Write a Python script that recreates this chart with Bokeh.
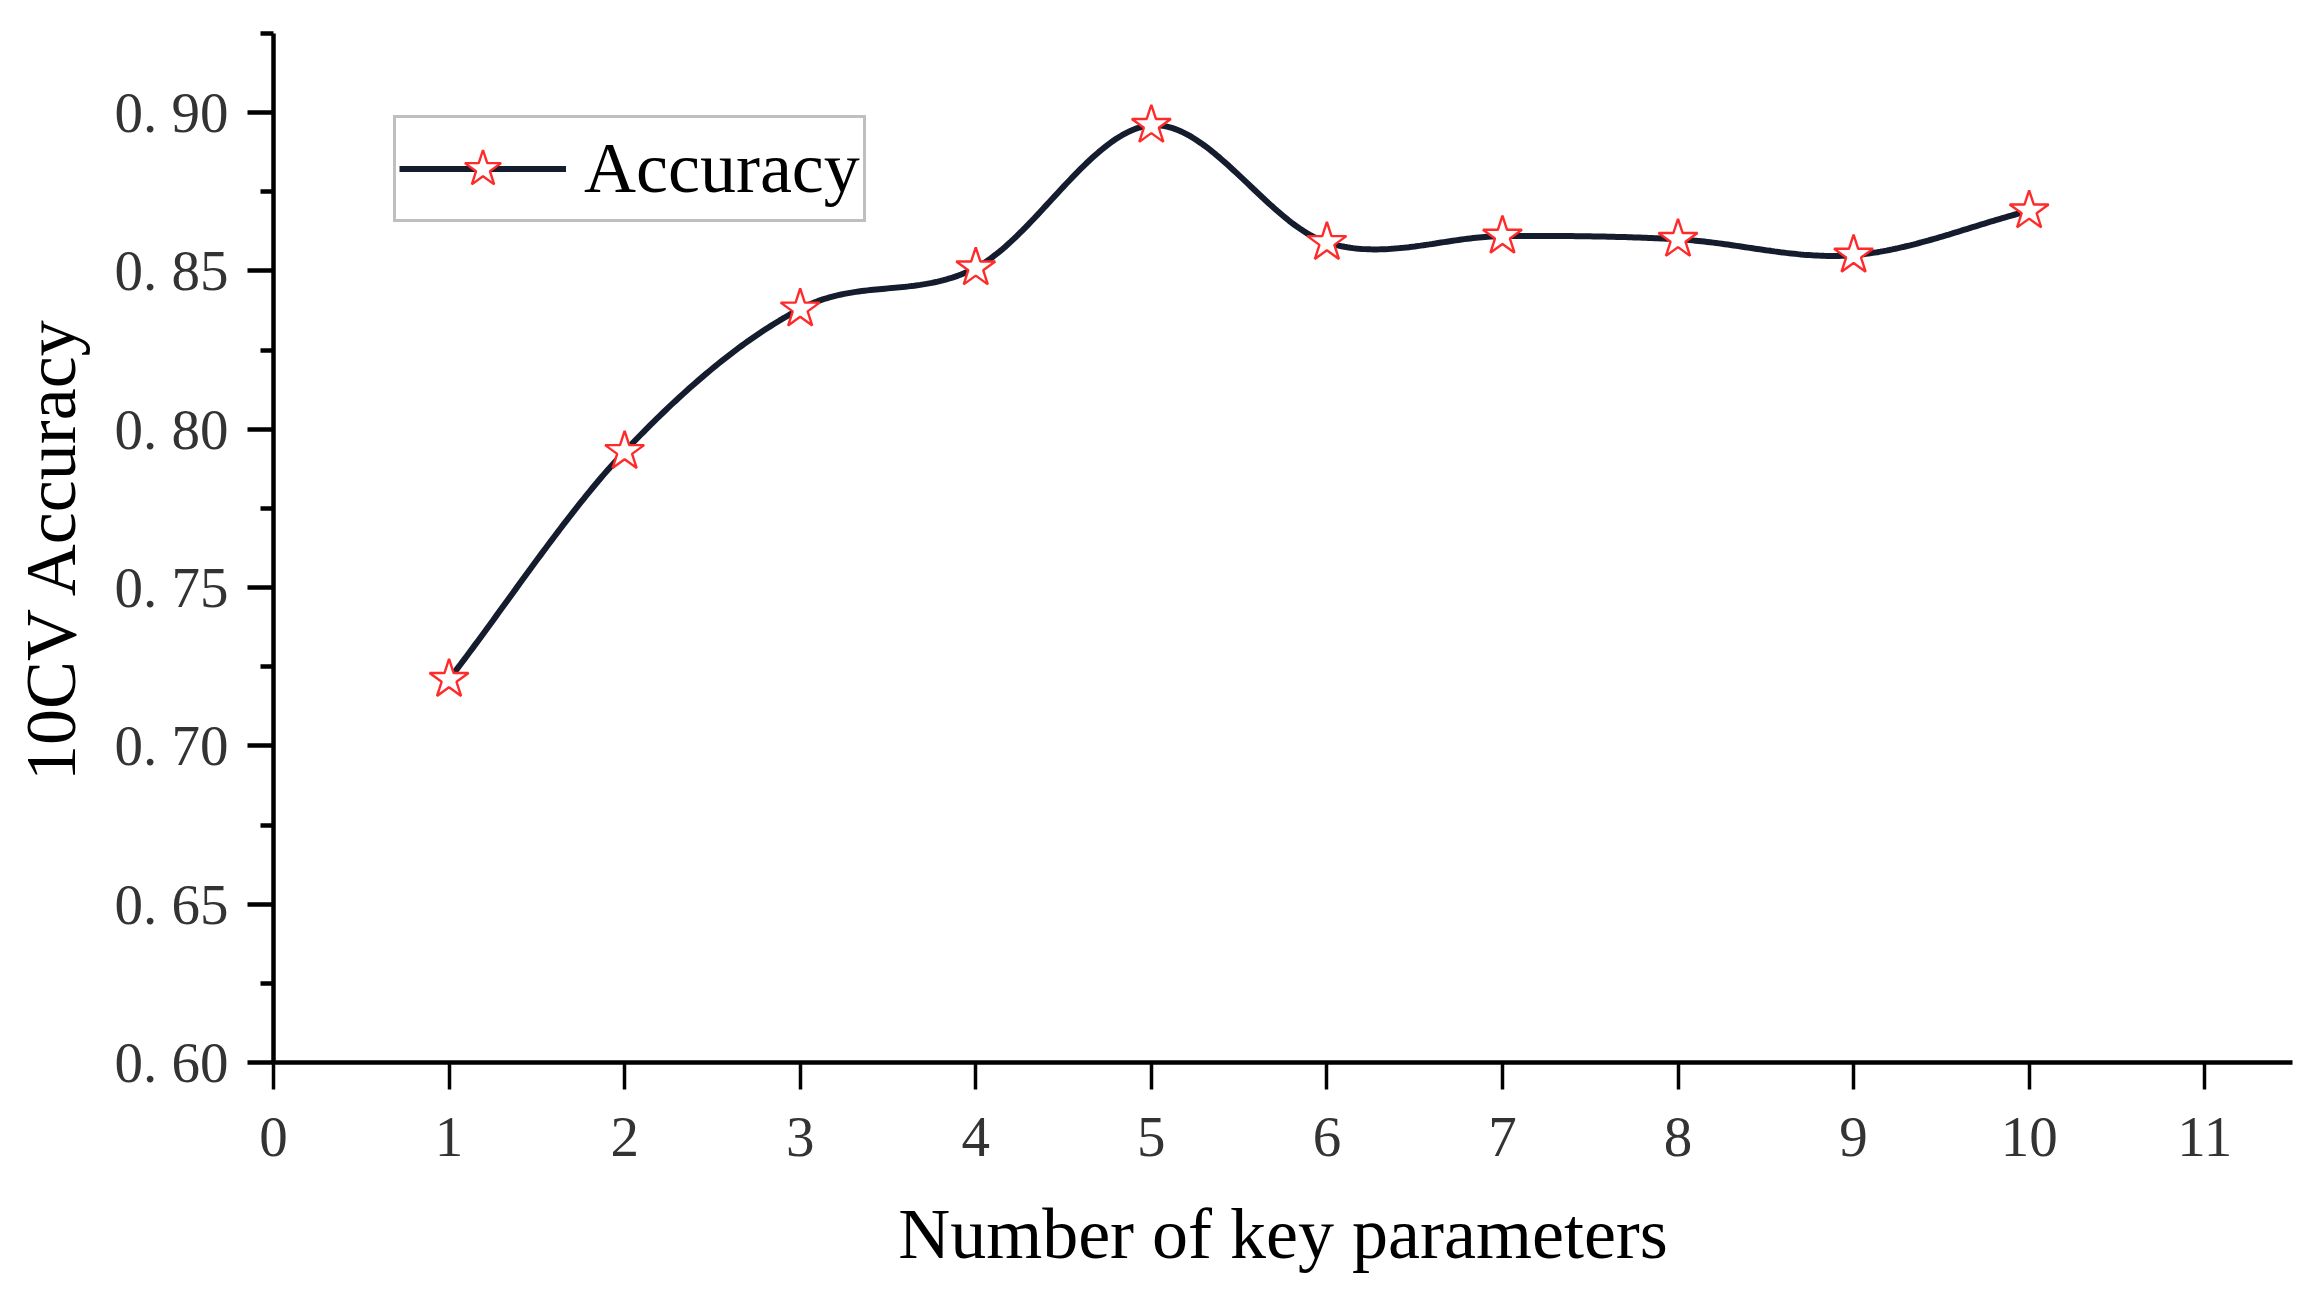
import numpy as np
from bokeh.plotting import figure
from bokeh.models import FixedTicker, Range1d, Legend, LegendItem
from bokeh.embed import file_html
from bokeh.resources import INLINE

# ---- data ----
num_params = [1, 2, 3, 4, 5, 6, 7, 8, 9, 10]
accuracy = [0.721, 0.793, 0.838, 0.851, 0.896, 0.859, 0.861, 0.860, 0.855, 0.869]
x_ticks = [0, 1, 2, 3, 4, 5, 6, 7, 8, 9, 10, 11]
y_ticks = [0.60, 0.65, 0.70, 0.75, 0.80, 0.85, 0.90]
y_minor = [0.625, 0.675, 0.725, 0.775, 0.825, 0.875, 0.925]
y_tick_labels = ["0. 60", "0. 65", "0. 70", "0. 75", "0. 80", "0. 85", "0. 90"]
series_name = "Accuracy"


def smooth_curve(xs, ys, per_seg=60):
    """Cubic Hermite (Catmull-Rom style) curve through the data points."""
    xs = np.asarray(xs, float)
    ys = np.asarray(ys, float)
    k = len(xs)
    m = np.empty(k)
    m[1:-1] = (ys[2:] - ys[:-2]) / (xs[2:] - xs[:-2])
    m[0] = (ys[1] - ys[0]) / (xs[1] - xs[0])
    m[-1] = (ys[-1] - ys[-2]) / (xs[-1] - xs[-2])
    out_x, out_y = [], []
    for i in range(k - 1):
        h = xs[i + 1] - xs[i]
        t = np.linspace(0, 1, per_seg, endpoint=(i == k - 2))
        h00 = 2 * t**3 - 3 * t**2 + 1
        h10 = t**3 - 2 * t**2 + t
        h01 = -2 * t**3 + 3 * t**2
        h11 = t**3 - t**2
        out_x.extend(xs[i] + t * h)
        out_y.extend(h00 * ys[i] + h10 * h * m[i] + h01 * ys[i + 1] + h11 * h * m[i + 1])
    return out_x, out_y


sx, sy = smooth_curve(num_params, accuracy)

p = figure(
    width=2297, height=1279,
    output_backend="svg", toolbar_location=None,
    x_range=Range1d(0, 11.5), y_range=Range1d(0.6, 0.925),
    min_border_left=273, min_border_right=5,
    min_border_top=33, min_border_bottom=217,
)
p.outline_line_color = None
p.xgrid.visible = False
p.ygrid.visible = False
p.background_fill_color = "white"

line_color = "#141c2e"
star_color = "#ff2a2a"

r_line = p.line(sx, sy, line_color=line_color, line_width=6)
r_star = p.scatter(num_params, accuracy, marker="star", size=41,
                   line_color=star_color, line_width=2.4, fill_color="white")

serif = "Liberation Serif"

# x axis
xa = p.xaxis[0]
xa.ticker = FixedTicker(ticks=x_ticks)
xa.axis_line_width = 4.5
xa.axis_line_color = "black"
xa.major_tick_line_width = 3.5
xa.major_tick_line_color = "black"
xa.major_tick_out = 27
xa.major_tick_in = 0
xa.minor_tick_line_color = None
xa.major_label_text_font = serif
xa.major_label_text_font_size = "57px"
xa.major_label_text_color = "#333333"
xa.major_label_standoff = 28
xa.axis_label = "Number of key parameters"
xa.axis_label_text_font = serif
xa.axis_label_text_font_size = "72px"
xa.axis_label_text_font_style = "normal"
xa.axis_label_text_color = "black"
xa.axis_label_standoff = 35

# y axis
ya = p.yaxis[0]
ya.ticker = FixedTicker(ticks=y_ticks, minor_ticks=y_minor)
ya.major_label_overrides = {t: lab for t, lab in zip(y_ticks, y_tick_labels)}
ya.axis_line_width = 4.5
ya.axis_line_color = "black"
ya.major_tick_line_width = 4.5
ya.major_tick_line_color = "black"
ya.major_tick_out = 26
ya.major_tick_in = 0
ya.minor_tick_line_width = 4.5
ya.minor_tick_line_color = "black"
ya.minor_tick_out = 13
ya.minor_tick_in = 0
ya.major_label_text_font = serif
ya.major_label_text_font_size = "57px"
ya.major_label_text_color = "#333333"
ya.major_label_standoff = 19
ya.axis_label = "10CV Accuracy"
ya.axis_label_text_font = serif
ya.axis_label_text_font_size = "72px"
ya.axis_label_text_font_style = "normal"
ya.axis_label_text_color = "black"
ya.axis_label_standoff = 21

legend = Legend(
    items=[LegendItem(label=series_name, renderers=[r_line, r_star])],
    location=(120, 840),
    glyph_width=167, glyph_height=95,
    label_text_font=serif, label_text_font_size="72px",
    label_text_color="black",
    label_standoff=18, padding=3, margin=0,
    border_line_color="#808080", border_line_width=3,
    background_fill_color="white", background_fill_alpha=1.0,
)
p.add_layout(legend, "center")

open("out.html", "w").write(file_html(p, INLINE))
